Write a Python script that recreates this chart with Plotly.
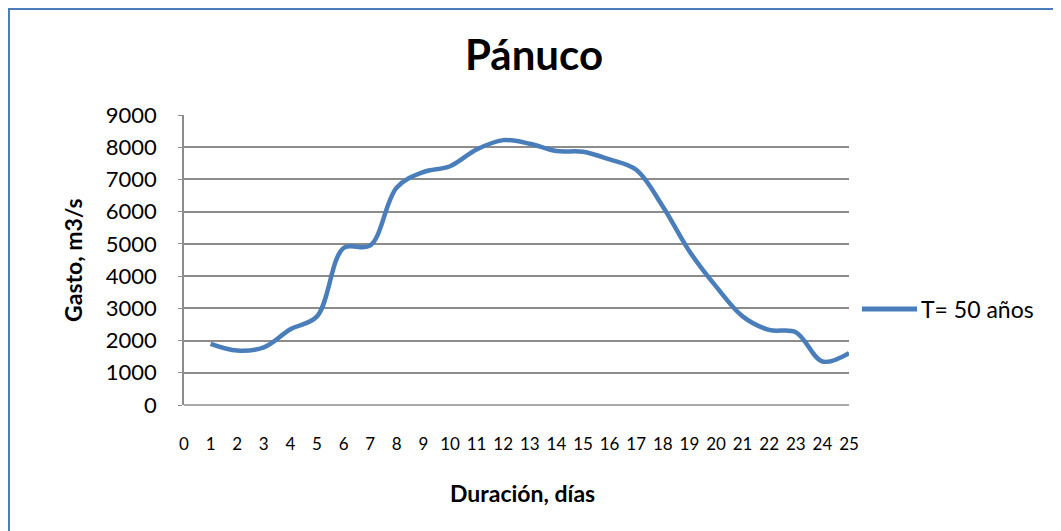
import plotly.graph_objects as go

dias = list(range(1, 26))
gasto = [1900, 1690, 1790, 2350, 2750, 4870, 4950, 6750, 7230, 7410, 7930, 8220, 8110,
         7880, 7860, 7620, 7300, 6160, 4770, 3680, 2750, 2330, 2260, 1350, 1610]
x_ticks = list(range(0, 26))
y_ticks = list(range(0, 9001, 1000))

serie = "T= 50 años"
titulo = "Pánuco"
x_titulo = "Duración, días"
y_titulo = "Gasto, m3/s"

azul = "#4A7EBB"
gris = "#8C8C8C"
fuente = "Lato"

# la página deja 8 px de margen, así que la figura es algo más pequeña
fig = go.Figure(
    go.Scatter(
        x=dias,
        y=gasto,
        mode="lines",
        name=serie,
        line=dict(color=azul, width=4.5, shape="spline", smoothing=1.0),
        showlegend=False,
    )
)

fig.update_layout(
    width=1053,
    height=523,
    margin=dict(l=176, r=212, t=107, b=126),
    paper_bgcolor="white",
    plot_bgcolor="white",
    font=dict(family=fuente, color="black"),
    xaxis=dict(
        range=[0, 25],
        tickvals=x_ticks,
        showgrid=False,
        zeroline=False,
        showline=False,
        ticks="",
        tickfont=dict(size=17),
        ticklabelstandoff=27,
    ),
    yaxis=dict(
        range=[0, 9000],
        tickvals=y_ticks,
        showgrid=True,
        gridcolor=gris,
        gridwidth=1.5,
        zeroline=False,
        showline=True,
        linecolor=gris,
        linewidth=1.5,
        ticks="outside",
        ticklen=4,
        tickcolor=gris,
        tickfont=dict(size=22),
        ticklabelstandoff=17,
    ),
    shapes=[
        # borde del área del gráfico
        dict(type="rect", xref="paper", yref="paper",
             x0=-0.2632, x1=1.5, y0=-0.5, y1=1.3655,
             line=dict(color=azul, width=2), layer="below"),
        # línea del eje x
        dict(type="line", xref="paper", yref="paper",
             x0=0, x1=1, y0=0, y1=0, line=dict(color=gris, width=1.5)),
        # muestra de la leyenda
        dict(type="line", xref="paper", yref="paper",
             x0=1.0195, x1=1.1023, y0=0.331, y1=0.331,
             line=dict(color=azul, width=5)),
    ],
    annotations=[
        dict(text=f"<b>{titulo}</b>", xref="paper", yref="paper",
             x=0.526, y=1.209, xanchor="center", yanchor="middle",
             showarrow=False, font=dict(size=42)),
        dict(text=f"<b>{y_titulo}</b>", xref="paper", yref="paper",
             x=-0.167, y=0.5, xanchor="center", yanchor="middle",
             textangle=-90, showarrow=False, font=dict(size=23)),
        dict(text=f"<b>{x_titulo}</b>", xref="paper", yref="paper",
             x=0.509, y=-0.303, xanchor="center", yanchor="middle",
             showarrow=False, font=dict(size=23)),
        dict(text=serie, xref="paper", yref="paper",
             x=1.1053, y=0.331, xanchor="left", yanchor="middle",
             showarrow=False, font=dict(size=23)),
    ],
)

fig.write_html("out.html")
